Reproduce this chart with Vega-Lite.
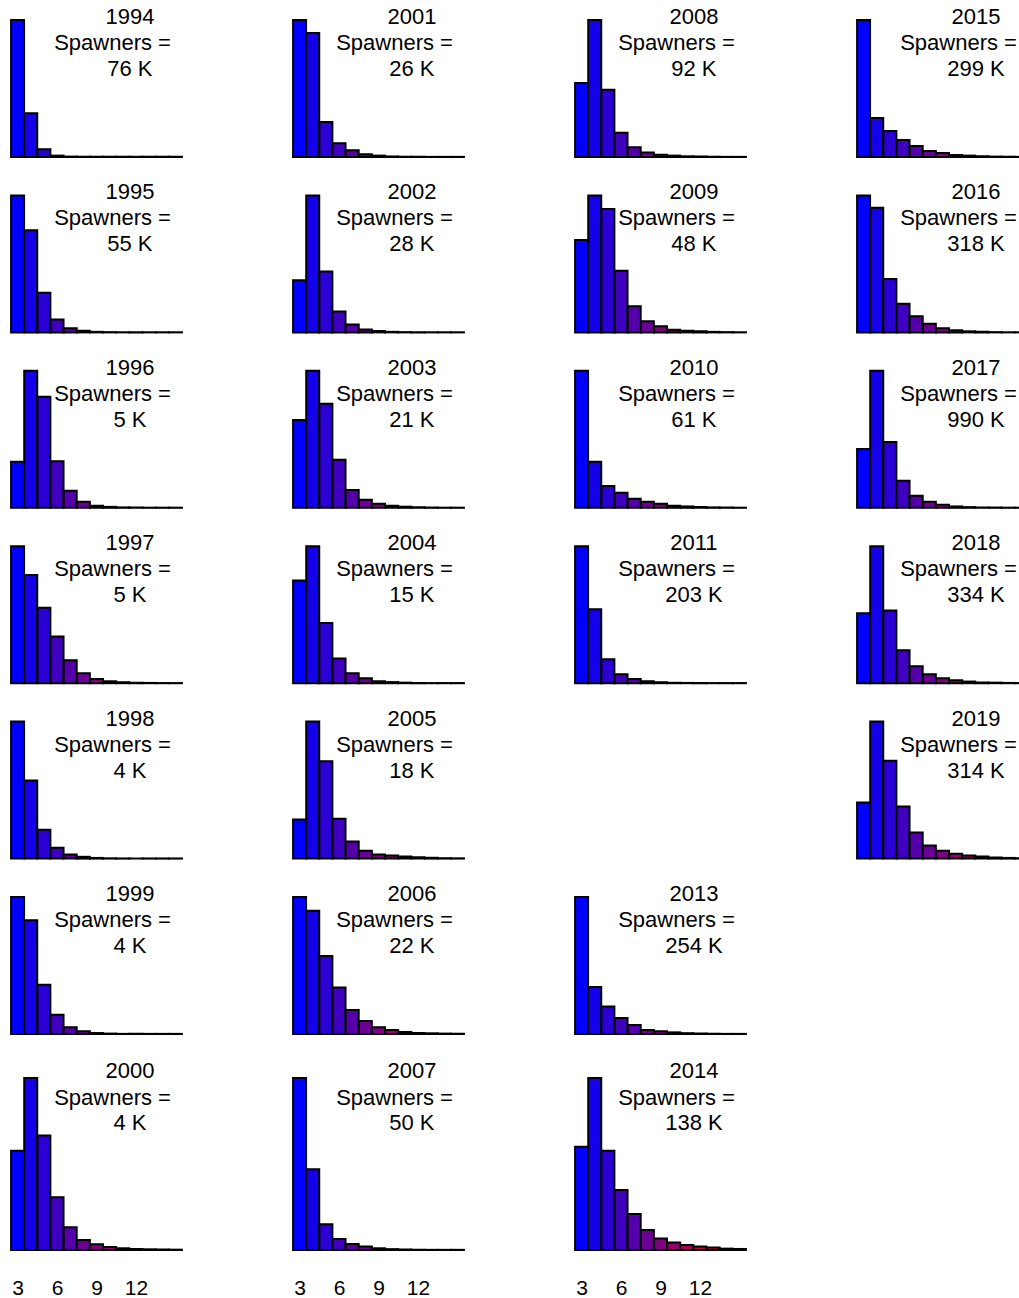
{
 "$schema": "https://vega.github.io/schema/vega-lite/v6.json",
 "background": "white",
 "padding": {"left": 10, "top": 5, "right": 0, "bottom": 0},
 "config": {"view": {"stroke": null}, "font": "Liberation Sans"},
 "datasets": {
  "spawn": [
   {"year":1994,"spawners":76},{"year":1995,"spawners":55},{"year":1996,"spawners":5},{"year":1997,"spawners":5},{"year":1998,"spawners":4},{"year":1999,"spawners":4},{"year":2000,"spawners":4},
   {"year":2001,"spawners":26},{"year":2002,"spawners":28},{"year":2003,"spawners":21},{"year":2004,"spawners":15},{"year":2005,"spawners":18},{"year":2006,"spawners":22},{"year":2007,"spawners":50},
   {"year":2008,"spawners":92},{"year":2009,"spawners":48},{"year":2010,"spawners":61},{"year":2011,"spawners":203},{"year":2013,"spawners":254},{"year":2014,"spawners":138},
   {"year":2015,"spawners":299},{"year":2016,"spawners":318},{"year":2017,"spawners":990},{"year":2018,"spawners":334},{"year":2019,"spawners":314}
  ],
  "bars": [
   {"year":1994,"age":3,"share":1},{"year":1994,"age":4,"share":0.32},{"year":1994,"age":5,"share":0.056},{"year":1994,"age":6,"share":0.01},{"year":1994,"age":7,"share":0.003},{"year":1994,"age":8,"share":0.002},{"year":1994,"age":9,"share":0.002},{"year":1994,"age":10,"share":0.002},{"year":1994,"age":11,"share":0.002},{"year":1994,"age":12,"share":0.002},{"year":1994,"age":13,"share":0.002},{"year":1994,"age":14,"share":0.002},{"year":1994,"age":15,"share":0.002},
   {"year":1995,"age":3,"share":1},{"year":1995,"age":4,"share":0.745},{"year":1995,"age":5,"share":0.29},{"year":1995,"age":6,"share":0.095},{"year":1995,"age":7,"share":0.03},{"year":1995,"age":8,"share":0.012},{"year":1995,"age":9,"share":0.004},{"year":1995,"age":10,"share":0.002},{"year":1995,"age":11,"share":0.001},{"year":1995,"age":12,"share":0.001},{"year":1995,"age":13,"share":0.001},{"year":1995,"age":14,"share":0.001},{"year":1995,"age":15,"share":0.001},
   {"year":1996,"age":3,"share":0.336},{"year":1996,"age":4,"share":1},{"year":1996,"age":5,"share":0.81},{"year":1996,"age":6,"share":0.34},{"year":1996,"age":7,"share":0.124},{"year":1996,"age":8,"share":0.044},{"year":1996,"age":9,"share":0.015},{"year":1996,"age":10,"share":0.007},{"year":1996,"age":11,"share":0.003},{"year":1996,"age":12,"share":0.002},{"year":1996,"age":13,"share":0.001},{"year":1996,"age":14,"share":0.001},{"year":1996,"age":15,"share":0.001},
   {"year":1997,"age":3,"share":1},{"year":1997,"age":4,"share":0.79},{"year":1997,"age":5,"share":0.55},{"year":1997,"age":6,"share":0.34},{"year":1997,"age":7,"share":0.168},{"year":1997,"age":8,"share":0.073},{"year":1997,"age":9,"share":0.03},{"year":1997,"age":10,"share":0.014},{"year":1997,"age":11,"share":0.007},{"year":1997,"age":12,"share":0.003},{"year":1997,"age":13,"share":0.002},{"year":1997,"age":14,"share":0.001},{"year":1997,"age":15,"share":0.001},
   {"year":1998,"age":3,"share":1},{"year":1998,"age":4,"share":0.57},{"year":1998,"age":5,"share":0.21},{"year":1998,"age":6,"share":0.08},{"year":1998,"age":7,"share":0.03},{"year":1998,"age":8,"share":0.013},{"year":1998,"age":9,"share":0.005},{"year":1998,"age":10,"share":0.002},{"year":1998,"age":11,"share":0.001},{"year":1998,"age":12,"share":0.001},{"year":1998,"age":13,"share":0.001},{"year":1998,"age":14,"share":0.001},{"year":1998,"age":15,"share":0.001},
   {"year":1999,"age":3,"share":1},{"year":1999,"age":4,"share":0.83},{"year":1999,"age":5,"share":0.36},{"year":1999,"age":6,"share":0.14},{"year":1999,"age":7,"share":0.05},{"year":1999,"age":8,"share":0.02},{"year":1999,"age":9,"share":0.007},{"year":1999,"age":10,"share":0.003},{"year":1999,"age":11,"share":0.001},{"year":1999,"age":12,"share":0.001},{"year":1999,"age":13,"share":0.001},{"year":1999,"age":14,"share":0.001},{"year":1999,"age":15,"share":0.001},
   {"year":2000,"age":3,"share":0.577},{"year":2000,"age":4,"share":1},{"year":2000,"age":5,"share":0.665},{"year":2000,"age":6,"share":0.306},{"year":2000,"age":7,"share":0.132},{"year":2000,"age":8,"share":0.058},{"year":2000,"age":9,"share":0.033},{"year":2000,"age":10,"share":0.017},{"year":2000,"age":11,"share":0.01},{"year":2000,"age":12,"share":0.006},{"year":2000,"age":13,"share":0.004},{"year":2000,"age":14,"share":0.003},{"year":2000,"age":15,"share":0.002},
   {"year":2001,"age":3,"share":1},{"year":2001,"age":4,"share":0.905},{"year":2001,"age":5,"share":0.255},{"year":2001,"age":6,"share":0.1},{"year":2001,"age":7,"share":0.05},{"year":2001,"age":8,"share":0.02},{"year":2001,"age":9,"share":0.01},{"year":2001,"age":10,"share":0.004},{"year":2001,"age":11,"share":0.002},{"year":2001,"age":12,"share":0.001},{"year":2001,"age":13,"share":0.001},{"year":2001,"age":14,"share":0.001},{"year":2001,"age":15,"share":0.001},
   {"year":2002,"age":3,"share":0.38},{"year":2002,"age":4,"share":1},{"year":2002,"age":5,"share":0.445},{"year":2002,"age":6,"share":0.153},{"year":2002,"age":7,"share":0.058},{"year":2002,"age":8,"share":0.022},{"year":2002,"age":9,"share":0.01},{"year":2002,"age":10,"share":0.004},{"year":2002,"age":11,"share":0.002},{"year":2002,"age":12,"share":0.001},{"year":2002,"age":13,"share":0.001},{"year":2002,"age":14,"share":0.001},{"year":2002,"age":15,"share":0.001},
   {"year":2003,"age":3,"share":0.64},{"year":2003,"age":4,"share":1},{"year":2003,"age":5,"share":0.76},{"year":2003,"age":6,"share":0.35},{"year":2003,"age":7,"share":0.13},{"year":2003,"age":8,"share":0.058},{"year":2003,"age":9,"share":0.03},{"year":2003,"age":10,"share":0.015},{"year":2003,"age":11,"share":0.008},{"year":2003,"age":12,"share":0.004},{"year":2003,"age":13,"share":0.002},{"year":2003,"age":14,"share":0.001},{"year":2003,"age":15,"share":0.001},
   {"year":2004,"age":3,"share":0.75},{"year":2004,"age":4,"share":1},{"year":2004,"age":5,"share":0.44},{"year":2004,"age":6,"share":0.18},{"year":2004,"age":7,"share":0.073},{"year":2004,"age":8,"share":0.036},{"year":2004,"age":9,"share":0.015},{"year":2004,"age":10,"share":0.008},{"year":2004,"age":11,"share":0.004},{"year":2004,"age":12,"share":0.002},{"year":2004,"age":13,"share":0.001},{"year":2004,"age":14,"share":0.001},{"year":2004,"age":15,"share":0.001},
   {"year":2005,"age":3,"share":0.285},{"year":2005,"age":4,"share":1},{"year":2005,"age":5,"share":0.71},{"year":2005,"age":6,"share":0.29},{"year":2005,"age":7,"share":0.124},{"year":2005,"age":8,"share":0.058},{"year":2005,"age":9,"share":0.03},{"year":2005,"age":10,"share":0.022},{"year":2005,"age":11,"share":0.015},{"year":2005,"age":12,"share":0.01},{"year":2005,"age":13,"share":0.006},{"year":2005,"age":14,"share":0.003},{"year":2005,"age":15,"share":0.002},
   {"year":2006,"age":3,"share":1},{"year":2006,"age":4,"share":0.9},{"year":2006,"age":5,"share":0.57},{"year":2006,"age":6,"share":0.34},{"year":2006,"age":7,"share":0.175},{"year":2006,"age":8,"share":0.095},{"year":2006,"age":9,"share":0.05},{"year":2006,"age":10,"share":0.03},{"year":2006,"age":11,"share":0.015},{"year":2006,"age":12,"share":0.008},{"year":2006,"age":13,"share":0.005},{"year":2006,"age":14,"share":0.003},{"year":2006,"age":15,"share":0.002},
   {"year":2007,"age":3,"share":1},{"year":2007,"age":4,"share":0.47},{"year":2007,"age":5,"share":0.15},{"year":2007,"age":6,"share":0.064},{"year":2007,"age":7,"share":0.035},{"year":2007,"age":8,"share":0.02},{"year":2007,"age":9,"share":0.01},{"year":2007,"age":10,"share":0.005},{"year":2007,"age":11,"share":0.003},{"year":2007,"age":12,"share":0.002},{"year":2007,"age":13,"share":0.001},{"year":2007,"age":14,"share":0.001},{"year":2007,"age":15,"share":0.001},
   {"year":2008,"age":3,"share":0.54},{"year":2008,"age":4,"share":1},{"year":2008,"age":5,"share":0.49},{"year":2008,"age":6,"share":0.177},{"year":2008,"age":7,"share":0.071},{"year":2008,"age":8,"share":0.032},{"year":2008,"age":9,"share":0.017},{"year":2008,"age":10,"share":0.01},{"year":2008,"age":11,"share":0.005},{"year":2008,"age":12,"share":0.003},{"year":2008,"age":13,"share":0.002},{"year":2008,"age":14,"share":0.001},{"year":2008,"age":15,"share":0.001},
   {"year":2009,"age":3,"share":0.674},{"year":2009,"age":4,"share":1},{"year":2009,"age":5,"share":0.9},{"year":2009,"age":6,"share":0.45},{"year":2009,"age":7,"share":0.19},{"year":2009,"age":8,"share":0.081},{"year":2009,"age":9,"share":0.044},{"year":2009,"age":10,"share":0.02},{"year":2009,"age":11,"share":0.012},{"year":2009,"age":12,"share":0.008},{"year":2009,"age":13,"share":0.004},{"year":2009,"age":14,"share":0.002},{"year":2009,"age":15,"share":0.001},
   {"year":2010,"age":3,"share":1},{"year":2010,"age":4,"share":0.336},{"year":2010,"age":5,"share":0.16},{"year":2010,"age":6,"share":0.11},{"year":2010,"age":7,"share":0.066},{"year":2010,"age":8,"share":0.044},{"year":2010,"age":9,"share":0.03},{"year":2010,"age":10,"share":0.015},{"year":2010,"age":11,"share":0.01},{"year":2010,"age":12,"share":0.005},{"year":2010,"age":13,"share":0.003},{"year":2010,"age":14,"share":0.002},{"year":2010,"age":15,"share":0.001},
   {"year":2011,"age":3,"share":1},{"year":2011,"age":4,"share":0.54},{"year":2011,"age":5,"share":0.175},{"year":2011,"age":6,"share":0.066},{"year":2011,"age":7,"share":0.03},{"year":2011,"age":8,"share":0.015},{"year":2011,"age":9,"share":0.007},{"year":2011,"age":10,"share":0.003},{"year":2011,"age":11,"share":0.002},{"year":2011,"age":12,"share":0.001},{"year":2011,"age":13,"share":0.001},{"year":2011,"age":14,"share":0.001},{"year":2011,"age":15,"share":0.001},
   {"year":2013,"age":3,"share":1},{"year":2013,"age":4,"share":0.343},{"year":2013,"age":5,"share":0.2},{"year":2013,"age":6,"share":0.117},{"year":2013,"age":7,"share":0.066},{"year":2013,"age":8,"share":0.03},{"year":2013,"age":9,"share":0.02},{"year":2013,"age":10,"share":0.012},{"year":2013,"age":11,"share":0.006},{"year":2013,"age":12,"share":0.003},{"year":2013,"age":13,"share":0.002},{"year":2013,"age":14,"share":0.001},{"year":2013,"age":15,"share":0.001},
   {"year":2014,"age":3,"share":0.6},{"year":2014,"age":4,"share":1},{"year":2014,"age":5,"share":0.577},{"year":2014,"age":6,"share":0.349},{"year":2014,"age":7,"share":0.209},{"year":2014,"age":8,"share":0.116},{"year":2014,"age":9,"share":0.067},{"year":2014,"age":10,"share":0.044},{"year":2014,"age":11,"share":0.029},{"year":2014,"age":12,"share":0.021},{"year":2014,"age":13,"share":0.015},{"year":2014,"age":14,"share":0.008},{"year":2014,"age":15,"share":0.006},
   {"year":2015,"age":3,"share":1},{"year":2015,"age":4,"share":0.285},{"year":2015,"age":5,"share":0.19},{"year":2015,"age":6,"share":0.124},{"year":2015,"age":7,"share":0.08},{"year":2015,"age":8,"share":0.044},{"year":2015,"age":9,"share":0.03},{"year":2015,"age":10,"share":0.015},{"year":2015,"age":11,"share":0.01},{"year":2015,"age":12,"share":0.005},{"year":2015,"age":13,"share":0.003},{"year":2015,"age":14,"share":0.002},{"year":2015,"age":15,"share":0.001},
   {"year":2016,"age":3,"share":1},{"year":2016,"age":4,"share":0.91},{"year":2016,"age":5,"share":0.39},{"year":2016,"age":6,"share":0.21},{"year":2016,"age":7,"share":0.118},{"year":2016,"age":8,"share":0.064},{"year":2016,"age":9,"share":0.03},{"year":2016,"age":10,"share":0.015},{"year":2016,"age":11,"share":0.008},{"year":2016,"age":12,"share":0.004},{"year":2016,"age":13,"share":0.002},{"year":2016,"age":14,"share":0.001},{"year":2016,"age":15,"share":0.001},
   {"year":2017,"age":3,"share":0.43},{"year":2017,"age":4,"share":1},{"year":2017,"age":5,"share":0.48},{"year":2017,"age":6,"share":0.197},{"year":2017,"age":7,"share":0.088},{"year":2017,"age":8,"share":0.044},{"year":2017,"age":9,"share":0.022},{"year":2017,"age":10,"share":0.01},{"year":2017,"age":11,"share":0.005},{"year":2017,"age":12,"share":0.003},{"year":2017,"age":13,"share":0.002},{"year":2017,"age":14,"share":0.001},{"year":2017,"age":15,"share":0.001},
   {"year":2018,"age":3,"share":0.51},{"year":2018,"age":4,"share":1},{"year":2018,"age":5,"share":0.53},{"year":2018,"age":6,"share":0.24},{"year":2018,"age":7,"share":0.124},{"year":2018,"age":8,"share":0.066},{"year":2018,"age":9,"share":0.036},{"year":2018,"age":10,"share":0.022},{"year":2018,"age":11,"share":0.012},{"year":2018,"age":12,"share":0.006},{"year":2018,"age":13,"share":0.004},{"year":2018,"age":14,"share":0.002},{"year":2018,"age":15,"share":0.001},
   {"year":2019,"age":3,"share":0.41},{"year":2019,"age":4,"share":1},{"year":2019,"age":5,"share":0.715},{"year":2019,"age":6,"share":0.38},{"year":2019,"age":7,"share":0.19},{"year":2019,"age":8,"share":0.095},{"year":2019,"age":9,"share":0.058},{"year":2019,"age":10,"share":0.036},{"year":2019,"age":11,"share":0.022},{"year":2019,"age":12,"share":0.015},{"year":2019,"age":13,"share":0.008},{"year":2019,"age":14,"share":0.005},{"year":2019,"age":15,"share":0.003}
  ]
 },
 "data": {"name": "bars"},
 "transform": [
  {"lookup": "year", "from": {"data": {"name": "spawn"}, "key": "year", "fields": ["spawners"]}},
  {"calculate": "floor((datum.year - 1994) / 7)", "as": "col"},
  {"calculate": "(datum.year - 1994) % 7", "as": "row"},
  {"calculate": "datum.spawners + ' K'", "as": "spLabel"}
 ],
 "spacing": 24,
 "vconcat": [
  {
   "transform": [{"filter": "datum.row < 6"}],
   "bounds": "flush",
   "facet": {
    "row": {"field": "row", "type": "ordinal", "title": null, "header": {"labels": false, "title": null}},
    "column": {"field": "col", "type": "ordinal", "title": null, "header": {"labels": false, "title": null}}
   },
   "spacing": {"row": 38.4, "column": 111},
   "spec": {
    "width": 171,
    "height": 137,
    "layer": [
     {
      "mark": {"type": "bar", "orient": "vertical", "width": 13, "stroke": "black", "strokeWidth": 2},
      "encoding": {
       "x": {"field": "age", "type": "quantitative", "scale": {"domain": [2.5, 15.5], "nice": false, "zero": false, "padding": 0}, "axis": null},
       "y": {"field": "share", "type": "quantitative", "stack": null, "scale": {"domain": [0, 1], "nice": false}, "axis": null},
       "color": {"field": "age", "type": "quantitative", "scale": {"domain": [3, 15], "range": ["#0000ff", "#ff0000"], "interpolate": "rgb"}, "legend": null}
      }
     },
     {
      "transform": [{"filter": "datum.age == 3"}],
      "mark": {"type": "text", "fontSize": 22, "baseline": "middle", "align": "center", "color": "black"},
      "encoding": {"x": {"datum": 11.54}, "y": {"datum": 1.022}, "text": {"field": "year", "type": "nominal"}}
     },
     {
      "transform": [{"filter": "datum.age == 3"}],
      "mark": {"type": "text", "fontSize": 22, "baseline": "middle", "align": "center", "color": "black", "text": "Spawners ="},
      "encoding": {"x": {"datum": 10.22}, "y": {"datum": 0.832}}
     },
     {
      "transform": [{"filter": "datum.age == 3"}],
      "mark": {"type": "text", "fontSize": 22, "baseline": "middle", "align": "center", "color": "black"},
      "encoding": {"x": {"datum": 11.54}, "y": {"datum": 0.642}, "text": {"field": "spLabel", "type": "nominal"}}
     }
    ]
   }
  },
  {
   "transform": [{"filter": "datum.row == 6"}],
   "bounds": "flush",
   "facet": {
    "column": {"field": "col", "type": "ordinal", "title": null, "header": {"labels": false, "title": null}}
   },
   "spacing": {"column": 111},
   "spec": {
    "width": 171,
    "height": 172,
    "layer": [
     {
      "mark": {"type": "bar", "orient": "vertical", "width": 13, "stroke": "black", "strokeWidth": 2},
      "encoding": {
       "x": {"field": "age", "type": "quantitative", "scale": {"domain": [2.5, 15.5], "nice": false, "zero": false, "padding": 0},
             "axis": {"values": [3, 6, 9, 12], "title": null, "domain": false, "ticks": false, "grid": false, "labelFontSize": 21, "labelColor": "black", "labelPadding": 27, "labelFont": "Liberation Sans"}},
       "y": {"field": "share", "type": "quantitative", "stack": null, "scale": {"domain": [0, 1], "nice": false}, "axis": null},
       "color": {"field": "age", "type": "quantitative", "scale": {"domain": [3, 15], "range": ["#0000ff", "#ff0000"], "interpolate": "rgb"}, "legend": null}
      }
     },
     {
      "transform": [{"filter": "datum.age == 3"}],
      "mark": {"type": "text", "fontSize": 22, "baseline": "middle", "align": "center", "color": "black"},
      "encoding": {"x": {"datum": 11.54}, "y": {"datum": 1.041}, "text": {"field": "year", "type": "nominal"}}
     },
     {
      "transform": [{"filter": "datum.age == 3"}],
      "mark": {"type": "text", "fontSize": 22, "baseline": "middle", "align": "center", "color": "black", "text": "Spawners ="},
      "encoding": {"x": {"datum": 10.22}, "y": {"datum": 0.884}}
     },
     {
      "transform": [{"filter": "datum.age == 3"}],
      "mark": {"type": "text", "fontSize": 22, "baseline": "middle", "align": "center", "color": "black"},
      "encoding": {"x": {"datum": 11.54}, "y": {"datum": 0.738}, "text": {"field": "spLabel", "type": "nominal"}}
     }
    ]
   }
  }
 ]
}
